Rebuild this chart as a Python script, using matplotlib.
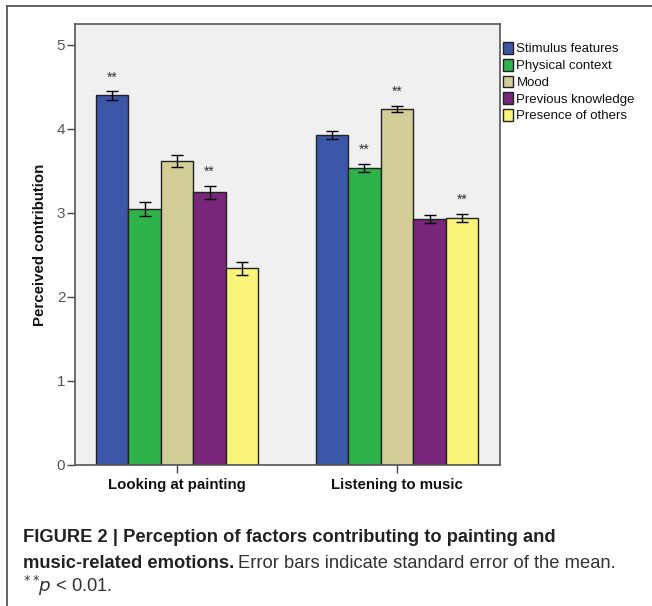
import numpy as np
import matplotlib.pyplot as plt
from matplotlib.lines import Line2D

plt.rcParams['font.family'] = ['Liberation Sans', 'DejaVu Sans']

# Mean ratings and standard errors per activity and factor
activities = ['Looking at painting', 'Listening to music']
factors = ['Stimulus features', 'Physical context', 'Mood',
           'Previous knowledge', 'Presence of others']
colors = ['#3c56a8', '#2fb24a', '#d3cd98', '#77267a', '#fbf47a']
painting_means = [4.40, 3.05, 3.615, 3.246, 2.34]
painting_se = [0.05, 0.08, 0.073, 0.08, 0.08]
music_means = [3.93, 3.54, 4.24, 2.93, 2.94]
music_se = [0.044, 0.048, 0.038, 0.05, 0.05]
# which bars carry ** (p < .01)
painting_sig = [True, False, False, True, False]
music_sig = [False, True, True, False, True]

means = np.array([painting_means, music_means])
errs = np.array([painting_se, music_se])
sigs = [painting_sig, music_sig]

W, H = 652, 606
fig = plt.figure(figsize=(W / 100, H / 100), dpi=100)

# outer frame of the figure panel (top and left edges visible)
fig.add_artist(Line2D([7 / W, 1.0], [1 - 6 / H, 1 - 6 / H], color='#555555', lw=1.3))
fig.add_artist(Line2D([7 / W, 7 / W], [0.0, 1 - 6 / H], color='#555555', lw=1.3))

ax = fig.add_axes([75 / W, 1 - 465 / H, 425 / W, 441 / H])
ax.set_facecolor('#f0f0f0')

width = 0.148
x = np.arange(len(activities))
for j, name in enumerate(factors):
    pos = x + (j - 2) * width
    ax.bar(pos, means[:, j], width, color=colors[j], edgecolor='#222222',
           linewidth=1.0, label=name, zorder=2)
    ax.errorbar(pos, means[:, j], yerr=errs[:, j], fmt='none', ecolor='black',
                elinewidth=1.0, capsize=4, capthick=1.0, zorder=3)
    for i in range(len(activities)):
        if sigs[i][j]:
            ax.text(pos[i], means[i, j] + errs[i, j] + 0.08, '**', ha='center',
                    va='bottom', fontsize=10, color='#333333')

ax.set_xlim(-0.464, 1.468)
ax.set_ylim(0, 5.25)
ax.set_yticks([0, 1, 2, 3, 4, 5])
ax.set_xticks(x)
ax.set_xticklabels(activities, fontsize=10.8, fontweight='bold', color='#111111')
ax.tick_params(axis='y', length=6, width=1, color='#444444', labelcolor='#555555',
               labelsize=11, pad=1)
ax.tick_params(axis='x', length=6, width=1, color='#444444', pad=3)
for s in ax.spines.values():
    s.set_color('#555555')
    s.set_linewidth(1.2)
ax.set_ylabel('Perceived contribution', fontsize=10.8, fontweight='bold',
              color='#111111', labelpad=7)

leg = ax.legend(loc='upper left', bbox_to_anchor=(1.0, 0.965), frameon=False,
                fontsize=9.5, handlelength=0.75, handleheight=1.0,
                handletextpad=0.3, labelspacing=0.25, borderaxespad=0.2,
                borderpad=0.0)
for t in leg.get_texts():
    t.set_color('#111111')

# caption
cap = 13.2
fig.text(23 / W, 1 - 537 / H, 'FIGURE 2 | Perception of factors contributing to painting and',
         fontsize=cap, fontweight='bold', color='#222222', va='center')
t1 = fig.text(23 / W, 1 - 563 / H, 'music-related emotions.', fontsize=cap,
              fontweight='bold', color='#222222', va='center')
fig.canvas.draw()
bb = t1.get_window_extent()
fig.text(bb.x1 / W + 4 / W, 1 - 563 / H, 'Error bars indicate standard error of the mean.',
         fontsize=cap, color='#333333', va='center')
fig.text(23 / W, 1 - 586 / H, r'$^{**}\!p$ < 0.01.', fontsize=cap, color='#333333',
         va='center')

fig.savefig('out.png', dpi=100)
